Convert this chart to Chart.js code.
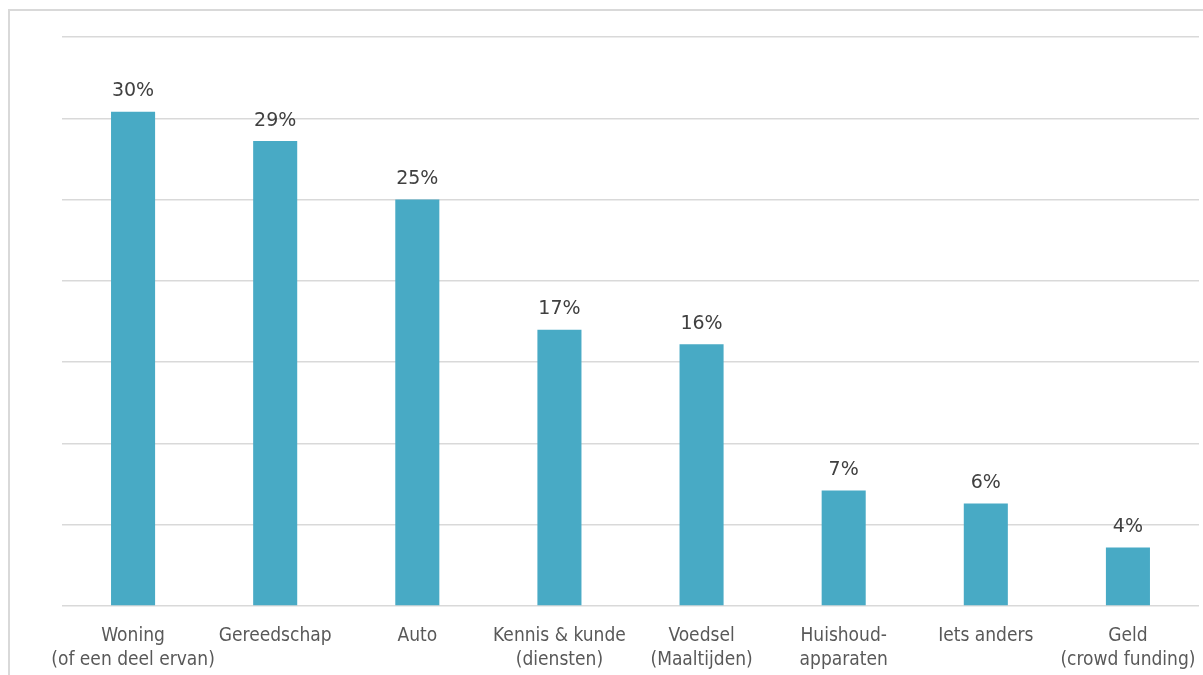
<!DOCTYPE html>
<html>
<head>
<meta charset="utf-8">
<script src="https://cdn.jsdelivr.net/npm/chart.js@4/dist/chart.umd.min.js"></script>
<style>
html, body { margin: 0; padding: 0; background: #fff; overflow: hidden; }
#frame { position: absolute; left: 8px; top: 9px; width: 1400px; height: 900px; border: 2px solid #d9d9d9; }
#myChart { position: absolute; left: 0; top: 0; }
</style>
</head>
<body>
<div id="frame"></div>
<canvas id="myChart" width="1203" height="675"></canvas>
<script>
// Waar wordt gedeeld - aandeel per categorie
const categories = [
  ['Woning', '(of een deel ervan)'],
  'Gereedschap',
  'Auto',
  ['Kennis & kunde', '(diensten)'],
  ['Voedsel', '(Maaltijden)'],
  ['Huishoud-', 'apparaten'],
  'Iets anders',
  ['Geld', '(crowd funding)']
];
const shares = [30.4, 28.6, 25.0, 17.0, 16.1, 7.1, 6.3, 3.6];
const yMax = 35;
const yStep = 5;

const fontFamily = '"DejaVu Sans Condensed", "DejaVu Sans", sans-serif';

// waarde boven elke staaf schrijven
const valueLabels = {
  id: 'valueLabels',
  afterDatasetsDraw(chart) {
    const ctx = chart.ctx;
    const meta = chart.getDatasetMeta(0);
    ctx.save();
    ctx.font = '19px "DejaVu Sans", sans-serif';
    ctx.fillStyle = '#404040';
    ctx.textAlign = 'center';
    ctx.textBaseline = 'alphabetic';
    meta.data.forEach(function(bar, i) {
      const v = chart.data.datasets[0].data[i];
      ctx.fillText(Math.round(v) + '%', bar.x, bar.y - 15.5);
    });
    ctx.restore();
  }
};

const config = {
  type: 'bar',
  data: {
    labels: categories,
    datasets: [{
      label: 'Aandeel',
      data: shares,
      backgroundColor: '#48aac5',
      borderWidth: 0,
      categoryPercentage: 1,
      barPercentage: 0.31
    }]
  },
  options: {
    responsive: false,
    animation: false,
    layout: {
      padding: { left: 62, right: 4, top: 37, bottom: 0 }
    },
    scales: {
      x: {
        grid: { display: false, drawTicks: false },
        border: { display: false },
        ticks: {
          color: '#595959',
          padding: 18,
          maxRotation: 0,
          autoSkip: false,
          font: { family: fontFamily, size: 19, lineHeight: 1.28 }
        },
        afterFit: function(scale) {
          scale.height = 69;
          scale.paddingLeft = 0;
          scale.paddingRight = 0;
        }
      },
      y: {
        min: 0,
        max: yMax,
        grid: { color: '#d9d9d9', lineWidth: 1.5, drawTicks: false },
        border: { display: false },
        ticks: { display: false, stepSize: yStep },
        afterFit: function(scale) {
          scale.width = 0;
        }
      }
    },
    plugins: {
      legend: { display: false },
      tooltip: { enabled: false }
    }
  },
  plugins: [valueLabels]
};

new Chart(document.getElementById('myChart'), config);
</script>
</body>
</html>
